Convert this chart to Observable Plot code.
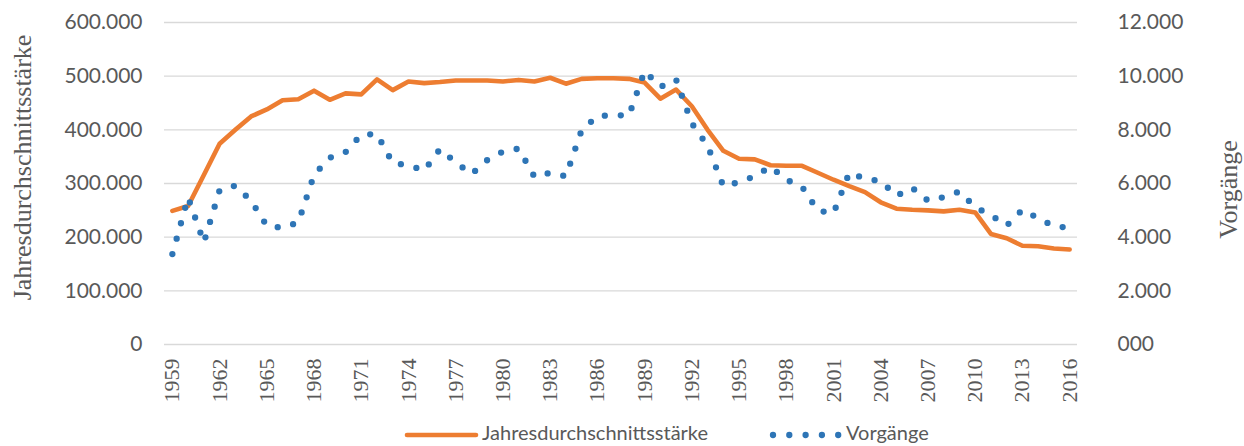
<!DOCTYPE html>
<html>
<head>
<meta charset="utf-8">
<script src="https://cdn.jsdelivr.net/npm/d3@7"></script>
<script src="https://cdn.jsdelivr.net/npm/@observablehq/plot@0.6"></script>
<style>
  html, body { margin: 0; padding: 0; background: #ffffff; }
  #chart { width: 1244px; }
  #legend { display: block; }
</style>
</head>
<body>
<div id="chart"></div>
<script>
const years = [1959,1960,1961,1962,1963,1964,1965,1966,1967,1968,1969,1970,1971,1972,1973,1974,1975,1976,1977,1978,1979,1980,1981,1982,1983,1984,1985,1986,1987,1988,1989,1990,1991,1992,1993,1994,1995,1996,1997,1998,1999,2000,2001,2002,2003,2004,2005,2006,2007,2008,2009,2010,2011,2012,2013,2014,2015,2016];
const staerke = [249000,258000,316000,374000,400000,425000,438000,455000,457000,473000,456000,468000,466000,494000,474000,490000,487000,489000,492000,492000,492000,490000,493000,490000,497000,486000,495000,496000,496000,495000,488000,458000,475000,444000,400000,361000,346000,345000,334000,333000,333000,320000,307000,295000,284000,265000,253000,251000,250000,248000,251000,246000,206000,198000,184000,183000,179000,177000];
const vorgaenge = [3370,5480,3800,5750,5920,5360,4420,4350,4550,6320,6960,7170,7820,7840,6760,6680,6480,7280,6790,6350,6870,7190,7300,6250,6400,6270,7990,8510,8550,8530,10190,9600,9870,8240,7410,5900,6050,6270,6630,6140,5880,4990,4890,6400,6180,6090,5540,5840,5360,5490,5700,5120,4820,4430,5020,4710,4410,4350];

const xTicks = [1959,1962,1965,1968,1971,1974,1977,1980,1983,1986,1989,1992,1995,1998,2001,2004,2007,2010,2013,2016];
const leftTicks = [0,100000,200000,300000,400000,500000,600000];
const leftLabels = ["0","100.000","200.000","300.000","400.000","500.000","600.000"];
const rightTicks = [0,2000,4000,6000,8000,10000,12000];
const rightLabels = ["000","2.000","4.000","6.000","8.000","10.000","12.000"];

const seriesNames = ["Jahresdurchschnittsstärke","Vorgänge"];
const colors = ["#ED7D31","#2E75B6"];

const ratio = 600000 / 12000;
const data = years.map((y, i) => ({year: y, s: staerke[i], v: vorgaenge[i]}));
const leftMap = new Map(leftTicks.map((t, i) => [t, leftLabels[i]]));
const rightMap = new Map(rightTicks.map((t, i) => [t * ratio, rightLabels[i]]));

const gray = "#595959";

const chart = Plot.plot({
  width: 1244,
  height: 412,
  marginLeft: 164,
  marginRight: 167,
  marginTop: 22,
  marginBottom: 68,
  style: {fontFamily: "Lato, sans-serif", color: gray, background: "#ffffff", overflow: "visible"},
  x: {domain: [1958.5, 2016.5]},
  y: {domain: [0, 600000]},
  marks: [
    Plot.gridY(leftTicks, {stroke: "#d9d9d9", strokeOpacity: 1, strokeWidth: 1.3}),
    Plot.axisY(leftTicks, {anchor: "left", tickSize: 0, tickPadding: 22, fontSize: 21, fill: gray, label: null, tickFormat: d => leftMap.get(d)}),
    Plot.axisY(rightTicks.map(t => t * ratio), {anchor: "right", tickSize: 0, tickPadding: 40, fontSize: 21, fill: gray, label: null, textAnchor: "start", tickFormat: d => rightMap.get(d)}),
    Plot.axisX(xTicks, {anchor: "bottom", tickSize: 0, tickPadding: 14, tickRotate: -90, fontSize: 22, fontFamily: "Liberation Serif, serif", fill: gray, label: null, tickFormat: d => String(d)}),
    Plot.line(data, {x: "year", y: "s", stroke: colors[0], strokeWidth: 4.6, strokeLinejoin: "round", strokeLinecap: "round"}),
    Plot.line(data, {x: "year", y: d => d.v * ratio, stroke: colors[1], strokeWidth: 6.3, strokeDasharray: "0 16", strokeLinecap: "round"}),
    Plot.text([seriesNames[0]], {frameAnchor: "left", textAnchor: "middle", lineAnchor: "middle", dx: -142, dy: -16, rotate: -90, fontFamily: "Liberation Serif, serif", fontSize: 26, fill: gray}),
    Plot.text([seriesNames[1]], {frameAnchor: "right", textAnchor: "middle", lineAnchor: "middle", dx: 151, dy: 6, rotate: -90, fontFamily: "Liberation Serif, serif", fontSize: 26, fill: gray})
  ]
});
document.getElementById("chart").appendChild(chart);

// Legend below the plot
const legend = d3.select("#chart").append("svg")
  .attr("id", "legend")
  .attr("width", 1244).attr("height", 34)
  .style("font-family", "Lato, sans-serif");
legend.append("line")
  .attr("x1", 407).attr("x2", 476).attr("y1", 23).attr("y2", 23)
  .attr("stroke", colors[0]).attr("stroke-width", 4.6).attr("stroke-linecap", "round");
legend.append("text")
  .attr("x", 482).attr("y", 23).attr("dominant-baseline", "middle")
  .attr("font-size", 20).attr("fill", gray).text(seriesNames[0]);
legend.append("line")
  .attr("x1", 773).attr("x2", 839).attr("y1", 23).attr("y2", 23)
  .attr("stroke", colors[1]).attr("stroke-width", 6.3).attr("stroke-linecap", "round")
  .attr("stroke-dasharray", "0 16.3");
legend.append("text")
  .attr("x", 846).attr("y", 23).attr("dominant-baseline", "middle")
  .attr("font-size", 20).attr("fill", gray).text(seriesNames[1]);
</script>
</body>
</html>
